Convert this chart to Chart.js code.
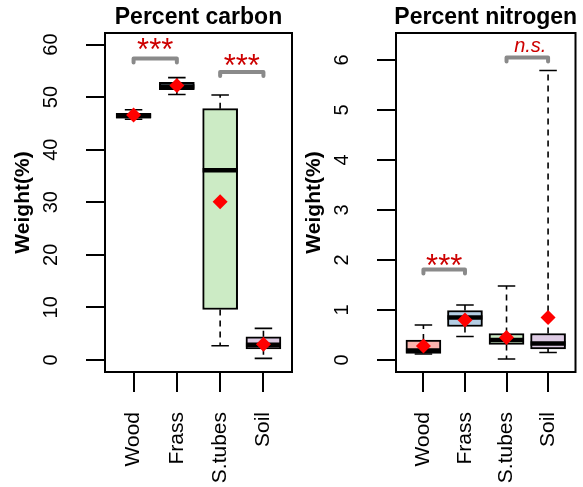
<!DOCTYPE html>
<html>
<head>
<meta charset="utf-8">
<script src="https://cdn.jsdelivr.net/npm/chart.js@4.4.1/dist/chart.umd.min.js"></script>
<style>
  html, body { margin: 0; padding: 0; background: #fff; }
  #wrap { position: relative; width: 583px; height: 487px; }
  #wrap canvas { position: absolute; left: 0; top: 0; }
</style>
</head>
<body>
<div id="wrap">
  <canvas id="carbon" width="583" height="487"></canvas>
  <canvas id="nitrogen" width="583" height="487"></canvas>
</div>
<script>
const categories = ["Wood", "Frass", "S.tubes", "Soil"];
const boxColors = ["#FBB4AE", "#B3CDE3", "#CCEBC5", "#DECBE4"];

// Percent carbon (box stats)
const carbonLow = [45.8, 50.5, 2.7, 0.3];
const carbonQ1 = [46.0, 51.4, 9.6, 2.1];
const carbonMedian = [46.4, 52.0, 36.1, 2.9];
const carbonQ3 = [46.9, 52.8, 47.8, 4.4];
const carbonHigh = [47.6, 53.7, 50.4, 6.0];
const carbonMean = [46.6, 52.2, 30.1, 3.0];
const carbonTicks = [0, 10, 20, 30, 40, 50, 60];
const carbonPairs = [[1, 2], [3, 4]];
const carbonBracketY = [57.35, 54.8];
const carbonLabelY = [60.1, 57.0];
const carbonLabels = ["***", "***"];

// Percent nitrogen
const nitrogenLow = [0.12, 0.47, 0.02, 0.15];
const nitrogenQ1 = [0.13, 0.67, 0.31, 0.22];
const nitrogenMedian = [0.19, 0.85, 0.40, 0.33];
const nitrogenQ3 = [0.40, 0.99, 0.53, 0.53];
const nitrogenHigh = [0.70, 1.10, 1.48, 5.79];
const nitrogenMean = [0.28, 0.80, 0.45, 0.85];
const nitrogenTicks = [0, 1, 2, 3, 4, 5, 6];
const nitrogenPairs = [[1, 2], [3, 4]];
const nitrogenBracketY = [1.81, 6.05];
const nitrogenLabelY = [2.0, 6.27];
const nitrogenLabels = ["***", "n.s."];

const FONT = "'Liberation Sans', Arial, Helvetica, sans-serif";

// whiskers, caps and medians, drawn right after the boxes
const boxExtras = {
  id: "boxExtras",
  afterDatasetDraw(chart, args, opts) {
    if (args.index !== 0) return;
    const ctx = chart.ctx;
    const y = chart.scales.y;
    const bars = chart.getDatasetMeta(0).data;
    ctx.save();
    ctx.strokeStyle = "#000";
    bars.forEach((bar, i) => {
      const w = bar.width;
      const cx = bar.x;
      const yLow = y.getPixelForValue(opts.low[i]);
      const yHigh = y.getPixelForValue(opts.high[i]);
      const yQ1 = y.getPixelForValue(opts.q1[i]);
      const yQ3 = y.getPixelForValue(opts.q3[i]);
      // dashed whiskers
      ctx.lineWidth = 1.6;
      ctx.setLineDash([6, 5]);
      ctx.beginPath();
      ctx.moveTo(cx, yQ3); ctx.lineTo(cx, yHigh);
      ctx.moveTo(cx, yQ1); ctx.lineTo(cx, yLow);
      ctx.stroke();
      // caps
      ctx.setLineDash([]);
      ctx.beginPath();
      ctx.moveTo(cx - w / 4, yHigh); ctx.lineTo(cx + w / 4, yHigh);
      ctx.moveTo(cx - w / 4, yLow); ctx.lineTo(cx + w / 4, yLow);
      ctx.stroke();
      // median
      ctx.lineWidth = 4.5;
      const ym = y.getPixelForValue(opts.median[i]);
      ctx.beginPath();
      ctx.moveTo(cx - w / 2, ym); ctx.lineTo(cx + w / 2, ym);
      ctx.stroke();
    });
    ctx.restore();
  },
  afterDraw(chart, args, opts) {
    const ctx = chart.ctx;
    const a = chart.chartArea;
    const x = chart.scales.x, y = chart.scales.y;
    ctx.save();
    // frame
    ctx.strokeStyle = "#000";
    ctx.lineWidth = 2;
    ctx.strokeRect(a.left, a.top, a.right - a.left, a.bottom - a.top);
    // title
    ctx.fillStyle = "#000";
    ctx.font = "bold 23px " + FONT;
    ctx.textAlign = "center";
    ctx.textBaseline = "middle";
    ctx.fillText(opts.title, (a.left + a.right) / 2, 18);
    // significance brackets
    opts.pairs.forEach((p, i) => {
      const x1 = x.getPixelForValue(p[0]);
      const x2 = x.getPixelForValue(p[1]);
      const yb = y.getPixelForValue(opts.bracketY[i]);
      ctx.strokeStyle = "#8a8a8a";
      ctx.lineWidth = 4;
      ctx.lineCap = "round";
      ctx.lineJoin = "round";
      ctx.beginPath();
      ctx.moveTo(x1, yb + 4); ctx.lineTo(x1, yb);
      ctx.lineTo(x2, yb); ctx.lineTo(x2, yb + 4);
      ctx.stroke();
      const lbl = opts.labels[i];
      ctx.font = lbl === "n.s." ? "italic 20px " + FONT : "31px " + FONT;
      ctx.fillStyle = "#CD0000";
      ctx.textBaseline = "alphabetic";
      const m = ctx.measureText(lbl);
      const yc = y.getPixelForValue(opts.labelY[i]);
      const xc = lbl === "n.s." ? (x1 + x2) / 2 + 3 : (x1 + x2) / 2;
      ctx.fillText(lbl, xc, yc + (m.actualBoundingBoxAscent - m.actualBoundingBoxDescent) / 2);
    });
    ctx.restore();
  }
};

function makePanel(id, title, s, yMin, yMax, ticks, padLeft, padRight, tickPad) {
  const points = (arr) => arr.map((v, i) => ({ x: i + 1, y: v }));
  return new Chart(document.getElementById(id), {
    type: "bar",
    data: {
      datasets: [
        {
          data: categories.map((c, i) => ({ x: i + 1, y: [s.q1[i], s.q3[i]] })),
          backgroundColor: boxColors,
          borderColor: "#000",
          borderWidth: 2,
          borderSkipped: false,
          barThickness: 35,
          order: 2
        },
        {
          type: "scatter",
          data: points(s.mean),
          pointStyle: "rectRot",
          pointRadius: 7.5,
          backgroundColor: "#FF0000",
          borderWidth: 0,
          order: 1
        }
      ]
    },
    options: {
      responsive: false,
      animation: false,
      events: [],
      layout: { padding: { left: padLeft, right: padRight, top: 33, bottom: 0 } },
      plugins: {
        legend: { display: false },
        tooltip: { enabled: false },
        boxExtras: {
          title: title,
          low: s.low, q1: s.q1, median: s.median, q3: s.q3, high: s.high,
          pairs: s.pairs, bracketY: s.bracketY, labelY: s.labelY, labels: s.labels
        }
      },
      scales: {
        x: {
          type: "linear",
          min: 0.34,
          max: 4.66,
          offset: false,
          afterBuildTicks: (sc) => { sc.ticks = categories.map((c, i) => ({ value: i + 1 })); },
          afterFit: (sc) => { sc.height = 115; sc.paddingLeft = 0; sc.paddingRight = 0; },
          grid: { offset: false, drawOnChartArea: false, tickLength: 20, lineWidth: 2, color: "#000" },
          border: { display: false },
          ticks: {
            color: "#000",
            font: { family: FONT, size: 21 },
            minRotation: 90,
            maxRotation: 90,
            padding: 20,
            callback: (v) => categories[v - 1]
          }
        },
        y: {
          min: yMin,
          max: yMax,
          afterBuildTicks: (sc) => { sc.ticks = ticks.map((v) => ({ value: v })); },
          afterFit: (sc) => { sc.width = 95; sc.paddingTop = 0; sc.paddingBottom = 0; },
          grid: { drawOnChartArea: false, tickLength: 19, lineWidth: 2, color: "#000" },
          border: { display: false },
          ticks: {
            color: "#000",
            font: { family: FONT, size: 20 },
            minRotation: 90,
            maxRotation: 90,
            crossAlign: "center",
            padding: tickPad
          },
          title: {
            display: true,
            text: "Weight(%)",
            color: "#000",
            font: { family: FONT, size: 21, weight: "bold" },
            padding: { top: 1, bottom: 0 }
          }
        }
      }
    },
    plugins: [boxExtras]
  });
}

makePanel("carbon", "Percent carbon", {
  low: carbonLow, q1: carbonQ1, median: carbonMedian, q3: carbonQ3, high: carbonHigh, mean: carbonMean,
  pairs: carbonPairs, bracketY: carbonBracketY, labelY: carbonLabelY, labels: carbonLabels
}, -2.3, 62.2, carbonTicks, 10, 291, 23);

makePanel("nitrogen", "Percent nitrogen", {
  low: nitrogenLow, q1: nitrogenQ1, median: nitrogenMedian, q3: nitrogenQ3, high: nitrogenHigh, mean: nitrogenMean,
  pairs: nitrogenPairs, bracketY: nitrogenBracketY, labelY: nitrogenLabelY, labels: nitrogenLabels
}, -0.24, 6.54, nitrogenTicks, 301, 2, 29);
</script>
</body>
</html>
